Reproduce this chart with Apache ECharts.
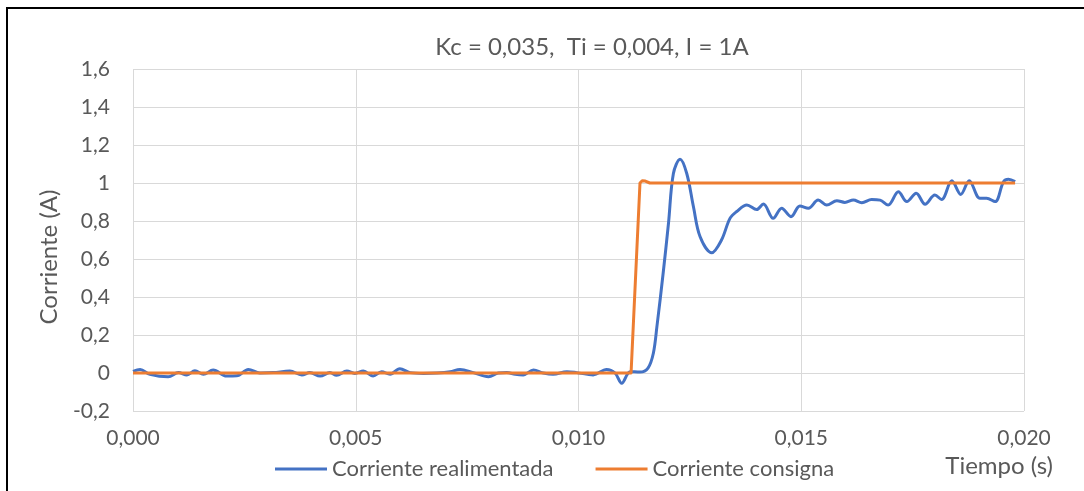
<!DOCTYPE html>
<html>
<head>
<meta charset="utf-8">
<script src="https://cdn.jsdelivr.net/npm/echarts@6/dist/echarts.min.js"></script>
<style>
  html, body { margin: 0; padding: 0; background: #fff; }
  #chart { width: 1084px; height: 491px; }
</style>
</head>
<body>
<div id="chart"></div>
<script>
// Measured current (blue) — time in seconds, current in amperes
const feedbackTime = [
  0.00000, 0.00016, 0.00038, 0.00079, 0.00102, 0.00121, 0.00139, 0.00158, 0.00180, 0.00210,
  0.00233, 0.00259, 0.00285, 0.00315, 0.00352, 0.00379, 0.00397, 0.00420, 0.00442, 0.00457,
  0.00480, 0.00498, 0.00517, 0.00539, 0.00558, 0.00577, 0.00599, 0.00622, 0.00652, 0.00682,
  0.00712, 0.00734, 0.00764, 0.00798, 0.00820, 0.00839, 0.00858, 0.00876, 0.00899, 0.00921,
  0.00943, 0.00974, 0.00996, 0.01033, 0.01063, 0.01082, 0.01097, 0.01116, 0.01138, 0.01156,
  0.01168, 0.01176, 0.01190, 0.01202, 0.01213, 0.01228, 0.01243, 0.01258, 0.01273, 0.01299,
  0.01321, 0.01340, 0.01355, 0.01378, 0.01400, 0.01415, 0.01437, 0.01456, 0.01477, 0.01497,
  0.01516, 0.01538, 0.01557, 0.01580, 0.01598, 0.01617, 0.01636, 0.01658, 0.01677, 0.01695,
  0.01718, 0.01737, 0.01758, 0.01778, 0.01800, 0.01815, 0.01838, 0.01858, 0.01877, 0.01901,
  0.01916, 0.01935, 0.01954, 0.01965, 0.01980
];
const feedbackCurrent = [
  0.008, 0.018, -0.007, -0.020, 0.002, -0.010, 0.012, -0.007, 0.016, -0.016,
  -0.015, 0.019, 0.000, 0.002, 0.010, -0.010, 0.002, -0.016, 0.002, -0.012,
  0.010, -0.002, 0.010, -0.016, 0.007, -0.007, 0.023, 0.002, -0.002, 0.000,
  0.007, 0.019, 0.002, -0.020, 0.000, 0.002, -0.007, -0.010, 0.016, 0.000,
  -0.007, 0.007, 0.002, -0.010, 0.019, 0.000, -0.054, 0.007, 0.005, 0.026,
  0.104, 0.244, 0.525, 0.788, 1.050, 1.125, 1.050, 0.875, 0.717, 0.633,
  0.700, 0.814, 0.850, 0.884, 0.860, 0.889, 0.814, 0.867, 0.823, 0.879,
  0.867, 0.910, 0.884, 0.907, 0.898, 0.910, 0.896, 0.913, 0.910, 0.884,
  0.954, 0.902, 0.946, 0.888, 0.937, 0.913, 1.012, 0.940, 1.012, 0.920,
  0.920, 0.902, 1.007, 1.020, 1.007
];

// Reference current (orange) — 1 A step
const setpointTime = [0.00000, 0.01110, 0.01113, 0.01118, 0.01138, 0.01143, 0.01150, 0.01160, 0.01980];
const setpointCurrent = [0, 0, -0.006, 0, 1.0, 1.012, 1.01, 1.0, 1.0];

const seriesNames = ['Corriente realimentada', 'Corriente consigna'];
const chartTitle = 'Kc = 0,035,  Ti = 0,004, I = 1A';
const xAxisTitle = 'Tiempo (s)';
const yAxisTitle = 'Corriente (A)';

const pairs = (xs, ys) => xs.map((x, i) => [x, ys[i]]);

const FONT = 'Lato, "Open Sans", sans-serif';
const TEXT = '#595959';

const chart = echarts.init(document.getElementById('chart'), null, { renderer: 'canvas' });
chart.setOption({
  animation: false,
  backgroundColor: '#ffffff',
  title: {
    text: chartTitle,
    left: 587,
    top: 30,
    textAlign: 'center',
    textStyle: { fontFamily: FONT, fontSize: 24, fontWeight: 'normal', color: TEXT }
  },
  legend: {
    data: seriesNames,
    left: 270,
    top: 453,
    icon: 'rect',
    itemWidth: 52,
    itemHeight: 3,
    itemGap: 42,
    textStyle: { fontFamily: FONT, fontSize: 22, color: TEXT }
  },
  grid: { left: 133, right: 60, top: 69, bottom: 80, containLabel: false },
  xAxis: {
    type: 'value',
    min: 0,
    max: 0.02,
    interval: 0.005,
    axisLine: { show: false },
    axisTick: { show: false },
    splitLine: { show: true, lineStyle: { color: '#d9d9d9', width: 1 } },
    axisLabel: {
      margin: 17,
      fontFamily: FONT,
      fontSize: 21,
      color: TEXT,
      formatter: v => v.toFixed(3).replace('.', ',')
    }
  },
  yAxis: {
    type: 'value',
    min: -0.2,
    max: 1.6,
    interval: 0.2,
    axisLine: { show: false },
    axisTick: { show: false },
    splitLine: { show: true, lineStyle: { color: '#d9d9d9', width: 1 } },
    axisLabel: {
      margin: 23,
      fontFamily: FONT,
      fontSize: 21,
      color: TEXT,
      formatter: v => String(Math.round(v * 10) / 10).replace('.', ',')
    }
  },
  series: [
    {
      name: seriesNames[0],
      type: 'line',
      data: pairs(feedbackTime, feedbackCurrent),
      showSymbol: false,
      smooth: 0.35,
      lineStyle: { color: '#4472C4', width: 3 },
      itemStyle: { color: '#4472C4' }
    },
    {
      name: seriesNames[1],
      type: 'line',
      data: pairs(setpointTime, setpointCurrent),
      showSymbol: false,
      smooth: false,
      lineStyle: { color: '#ED7D31', width: 3, join: 'round' },
      itemStyle: { color: '#ED7D31' }
    }
  ],
  graphic: [
    {
      type: 'polyline',
      shape: { points: [[7, 491], [7, 8], [1084, 8]] },
      style: { stroke: '#000', lineWidth: 2, fill: null }
    },
    {
      type: 'text',
      x: 49,
      y: 257,
      rotation: Math.PI / 2,
      style: { text: yAxisTitle, fontFamily: FONT, fontSize: 24, fill: TEXT, align: 'center', verticalAlign: 'middle' }
    },
    {
      type: 'text',
      x: 1053,
      y: 466,
      style: { text: xAxisTitle, fontFamily: FONT, fontSize: 24, fill: TEXT, align: 'right', verticalAlign: 'middle' }
    }
  ]
});
</script>
</body>
</html>
